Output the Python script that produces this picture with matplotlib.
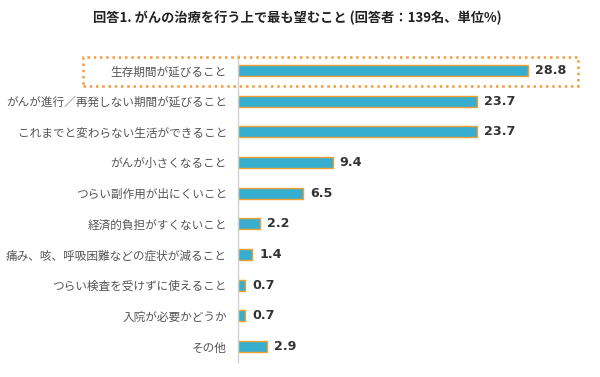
import matplotlib
matplotlib.use("Agg")
import matplotlib.pyplot as plt
from matplotlib.patches import Rectangle

plt.rcParams['font.family'] = ['Noto Sans CJK JP', 'DejaVu Sans']

categories = [
    "生存期間が延びること",
    "がんが進行／再発しない期間が延びること",
    "これまでと変わらない生活ができること",
    "がんが小さくなること",
    "つらい副作用が出にくいこと",
    "経済的負担がすくないこと",
    "痛み、咳、呼吸困難などの症状が減ること",
    "つらい検査を受けずに使えること",
    "入院が必要かどうか",
    "その他",
]
values = [28.8, 23.7, 23.7, 9.4, 6.5, 2.2, 1.4, 0.7, 0.7, 2.9]
title = "回答1. がんの治療を行う上で最も望むこと (回答者：139名、単位%)"

W, H = 600, 377
fig = plt.figure(figsize=(W / 100, H / 100), dpi=100)
ax = fig.add_axes([238 / W, 1 - 362 / H, (578 - 238) / W, (362 - 55) / H])

y = list(range(len(categories)))
ax.barh(y, values, height=0.36, color="#35AECF", edgecolor="#F0A030", linewidth=1.0)
ax.set_ylim(len(categories) - 0.5, -0.5)
ax.set_xlim(0, 340 / 10.07)

for yi, v in zip(y, values):
    ax.text(v + 0.7, yi, f"{v:.1f}", va="center", ha="left",
            fontsize=9.2, fontweight="bold", color="#333333",
            family=["DejaVu Sans"])

ax.set_yticks(y)
ax.set_yticklabels(categories, fontsize=8.4, color="#555555")
ax.tick_params(axis="y", length=0, pad=8)
ax.set_xticks([])
for s in ["top", "right", "bottom"]:
    ax.spines[s].set_visible(False)
ax.spines["left"].set_color("#d0d0d0")
ax.spines["left"].set_linewidth(1.0)

fig.text(297 / W, 1 - 18 / H, title, ha="center", va="center",
         fontsize=9.5, fontweight="bold", color="#222222")

box = Rectangle((83 / W, 1 - 86 / H), (578 - 83) / W, (86 - 57) / H,
                transform=fig.transFigure, fill=False, edgecolor="#F39A3B",
                linewidth=1.8, linestyle=(0, (1, 1.5)))
fig.patches.append(box)

fig.savefig("out.png", dpi=100, facecolor="white")
